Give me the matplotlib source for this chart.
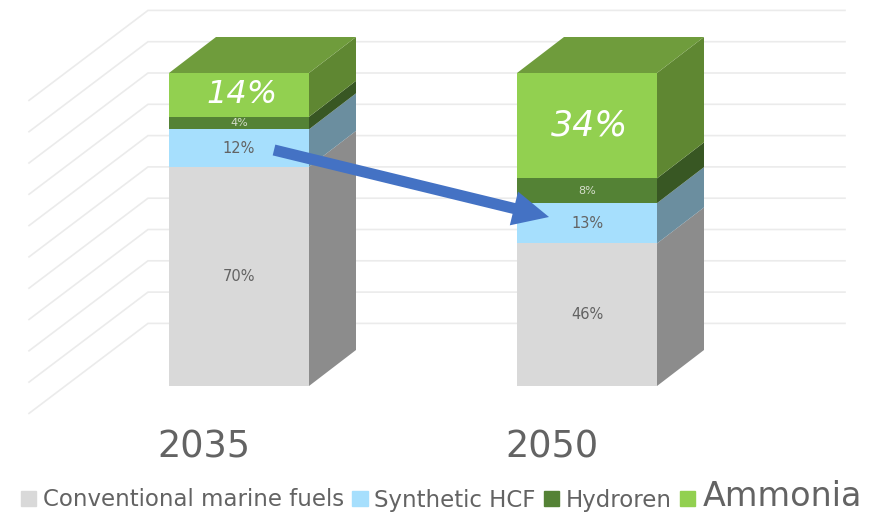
import matplotlib
matplotlib.use("Agg")
import matplotlib.pyplot as plt
from matplotlib.patches import Patch

years = ["2035", "2050"]
series = ["Conventional marine fuels", "Synthetic HCF", "Hydroren", "Ammonia"]
conventional = [70, 46]
synthetic = [12, 13]
hydrogen = [4, 8]
ammonia = [14, 34]
grid_levels = [20, 30, 40, 50, 60, 70, 80, 90, 100, 110, 120]

front = ["#D9D9D9", "#A6DFFD", "#548235", "#92D050"]
side = ["#8C8C8C", "#6B8E9F", "#385723", "#5F8732"]
top_col = "#6F9C3C"
text_col = "#636363"

W, H = 876, 514
PX_PER_X = 348.0
PX_PER_Y = 3.13
fig = plt.figure(figsize=(W / 100, H / 100), dpi=100)
ax = fig.add_axes([0, 0, 1, 1])
ax.set_xlim(-239 / PX_PER_X, (W - 239) / PX_PER_X)
ax.set_ylim((386 - H) / PX_PER_Y, 386 / PX_PER_Y)
ax.axis("off")

bar_w = 140 / PX_PER_X
dx = 47 / PX_PER_X
dy = 36 / PX_PER_Y

# wall grid
back_l = (148 - 239) / PX_PER_X
back_r = (845 - 239) / PX_PER_X
wall_x = (29 - 148) / PX_PER_X
wall_y = -90 / PX_PER_Y
for g in grid_levels:
    ax.plot([back_l + wall_x, back_l, back_r], [g + wall_y, g, g],
            color="#EBEBEB", lw=1.2, zorder=1, solid_joinstyle="miter")

# stacked 3D-look columns (100 % stacked)
stack = [conventional, synthetic, hydrogen, ammonia]
label_style = [
    dict(color=text_col, fontsize=10.5),
    dict(color=text_col, fontsize=10.5),
    dict(color="#D5DDCB", fontsize=8),
    dict(color="white", style="italic"),
]
ammonia_label_size = [23, 25]
for i in range(len(years)):
    total = sum(s[i] for s in stack)
    bottom = 0.0
    x0, x1 = i - bar_w / 2, i + bar_w / 2
    for k, s in enumerate(stack):
        h = s[i] / total * 100
        ax.bar(i, h, bar_w, bottom=bottom, color=front[k], zorder=3, linewidth=0)
        ax.fill([x1, x1 + dx, x1 + dx, x1],
                [bottom, bottom + dy, bottom + h + dy, bottom + h],
                color=side[k], zorder=3, linewidth=0)
        style = dict(label_style[k])
        offset = 0.0
        if k == 3:
            style["fontsize"] = ammonia_label_size[i]
            offset = 0.008
        ax.text(i + offset, bottom + h / 2, f"{s[i]}%", ha="center", va="center",
                zorder=4, **style)
        bottom += h
    ax.fill([x0, x1, x1 + dx, x0 + dx],
            [bottom, bottom, bottom + dy, bottom + dy],
            color=top_col, zorder=3, linewidth=0)
    ax.text(i - 0.102, -19.5, years[i], ha="center", va="center",
            fontsize=26.4, color=text_col, zorder=4)

# arrow between the synthetic segments
def px(x, y):
    return ((x - 239) / PX_PER_X, (386 - y) / PX_PER_Y)

ax.annotate("", xy=px(549, 217), xytext=px(274, 150),
            arrowprops=dict(width=8, headwidth=25, headlength=26,
                            shrink=0, color="#4472C4", linewidth=0),
            zorder=6)

handles = [Patch(color=c) for c in front]
leg = ax.legend(handles, series, ncol=4, loc="center left",
                bbox_to_anchor=(21 / W, 1 - 497 / H), frameon=False,
                handlelength=0.66, handleheight=0.66, handletextpad=0.3,
                columnspacing=0.36, fontsize=16.5, borderpad=0, borderaxespad=0,
                labelcolor=text_col)
leg.get_texts()[3].set_fontsize(24)

fig.savefig("out.png", dpi=100)
